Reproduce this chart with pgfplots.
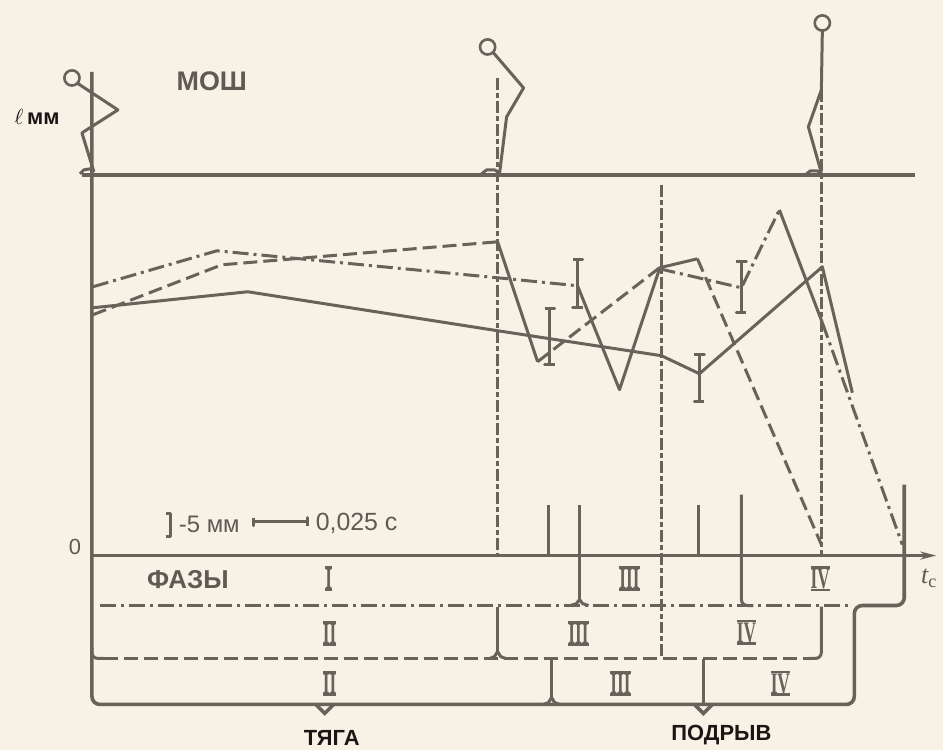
\documentclass[border=0pt]{standalone}
\usepackage{pgfplots}
\pgfplotsset{compat=1.18}
\usetikzlibrary{arrows.meta}
\usepackage{graphicx}
\usepackage{fontspec}
\setmainfont{Liberation Sans}
\newfontfamily\serifrm{Liberation Serif}
\definecolor{bgc}{RGB}{247,242,229}
\definecolor{lc}{RGB}{104,98,91}
\definecolor{gc}{RGB}{96,90,84}
\definecolor{tc}{RGB}{25,22,20}
\tikzset{
 ln/.style={lc, line width=1.5bp, line join=round},
 thk/.style={lc, line width=1.8bp},
 dsh/.style={lc, line width=1.5bp, dash pattern=on 7bp off 3bp},
 dd/.style={lc, line width=1.5bp, dash pattern=on 8bp off 2.5bp on 1.5bp off 2.5bp},
 vd/.style={lc, line width=1.6bp, dash pattern=on 6bp off 1.5bp on 2.5bp off 1.5bp},
 head/.style={only marks, mark=*, mark size=3.8bp, mark options={draw=lc, fill=bgc, line width=1.3bp}},
}
\newcommand\rn[1]{\scalebox{0.58}[1]{\vbox{\hrule height 1.4pt\hbox{\fontsize{15}{15}\serifrm\bfseries #1}\hrule height 1.4pt}}}
\begin{document}
\begin{tikzpicture}
\begin{axis}[
 scale only axis, width=472bp, height=375.5bp,
 xmin=0, xmax=944, ymin=0, ymax=751, y dir=reverse,
 axis line style={draw=none}, xtick=\empty, ytick=\empty,
 axis background/.style={fill=bgc},
 clip=false,
]
% --- frame lines
\addplot[thk] coordinates {(82,175) (916,175)};
\addplot[thk, rounded corners=4bp] coordinates {(92,72) (92,705) (855,705) (855,606) (905,606) (905,485)};
\addplot[thk, -{Stealth[length=8bp,width=4bp]}] coordinates {(92,556) (937,556)};
% --- vertical dashed lines
\addplot[vd] coordinates {(498,78) (498,556)};
\addplot[vd] coordinates {(662,185) (662,659)};
\addplot[vd] coordinates {(822,90) (822,556)};
% --- time ticks
\addplot[ln] coordinates {(549,505) (549,556)};
\addplot[ln] coordinates {(699,505) (699,556)};
% --- phases: row 1
\addplot[dd] coordinates {(100,606) (850,606)};
\addplot[ln] coordinates {(580,505) (580,600)};
\addplot[ln] coordinates {(571,606) (577,604) (580,600) (583,604) (589,606)};
\addplot[ln, rounded corners=3bp] coordinates {(742,495) (742,606) (754,606)};
% --- row 2
\addplot[dsh] coordinates {(104,659) (812,659)};
\addplot[ln, rounded corners=3bp] coordinates {(92,648) (92,659) (104,659)};
\addplot[ln, rounded corners=3bp] coordinates {(822,607) (822,659) (810,659)};
\addplot[ln] coordinates {(498,607) (498,652)};
\addplot[ln] coordinates {(490,659) (495,657) (498,652) (501,657) (506,659)};
% --- row 3
\addplot[ln] coordinates {(552,660) (552,698)};
\addplot[ln] coordinates {(544,705) (549,703) (552,698) (555,703) (560,705)};
\addplot[ln] coordinates {(704,660) (704,705)};
\addplot[thk] coordinates {(316,705) (325,714) (334,705)};
\addplot[thk] coordinates {(695,705) (704,714) (713,705)};
% --- stick figures
\addplot[ln] coordinates {(77,83) (118,110) (82,133) (94,172)};
\addplot[ln] coordinates {(80,174) (84,170) (90,169) (94,172)};
\addplot[head] coordinates {(72,78)};
\addplot[ln] coordinates {(494,53) (524,88) (507,117) (500,173)};
\addplot[ln] coordinates {(482,174) (487,170) (495,170) (500,173)};
\addplot[head] coordinates {(488,47)};
\addplot[ln] coordinates {(823,31) (822,90) (809,127) (822,173)};
\addplot[ln] coordinates {(806,175) (811,171) (818,171) (822,174)};
\addplot[head] coordinates {(823,23)};
% --- curves
\addplot[dd] coordinates {(93,287) (217,251) (498,278) (578,286)};
\addplot[ln] coordinates {(578,286) (620,390) (660,269)};
\addplot[dd] coordinates {(660,269) (742,288) (780,210)};
\addplot[ln] coordinates {(780,210) (823,323)};
\addplot[dd] coordinates {(823,323) (903,545)};
\addplot[dsh] coordinates {(93,315) (222,265) (498,242)};
\addplot[ln] coordinates {(498,242) (538,362)};
\addplot[dsh] coordinates {(538,362) (660,268)};
\addplot[ln] coordinates {(660,268) (698,259)};
\addplot[dsh] coordinates {(698,259) (822,545)};
\addplot[ln] coordinates {(93,308) (248,292) (498,331) (662,356) (700,374) (823,267) (853,393)};
% --- error bars
\addplot[ln] coordinates {(545,309) (555,309) (550,309) (550,365) (545,365) (555,365)};
\addplot[ln] coordinates {(573,260) (583,260) (578,260) (578,308) (573,308) (583,308)};
\addplot[ln] coordinates {(695,355) (705,355) (700,355) (700,402) (695,402) (705,402)};
\addplot[ln] coordinates {(737,262) (747,262) (742,262) (742,313) (737,313) (747,313)};
% --- scale legend
\addplot[ln] coordinates {(166,514) (171,514) (171,537) (166,537)};
\addplot[ln] coordinates {(254,518) (254,526) (254,522) (308,522) (308,518) (308,526)};
% --- texts
\node[gc, font=\bfseries\fontsize{13.5}{14}\selectfont] at (axis cs:212,81) {МОШ};
\node[tc, font=\fontsize{11}{12}\selectfont] at (axis cs:37,117) {$\ell$\,\textbf{мм}};
\node[gc, font=\fontsize{11}{12}\selectfont] at (axis cs:75,547) {0};
\node[gc, font=\bfseries\fontsize{13}{14}\selectfont] at (axis cs:188,580) {ФАЗЫ};
\node[gc, anchor=west, font=\fontsize{12}{13}\selectfont] at (axis cs:172,525) {-5 мм};
\node[gc, anchor=west, font=\fontsize{12.5}{13}\selectfont] at (axis cs:309,524) {0,025 с};
\node[gc, font=\fontsize{13}{14}\selectfont] at (axis cs:930,579) {{\serifrm\itshape t}\textsubscript{\serifrm с}};
\node[lc, inner sep=0pt] at (axis cs:329,579) {\rn{I}};
\node[lc, inner sep=0pt] at (axis cs:630,579) {\rn{III}};
\node[lc, inner sep=0pt] at (axis cs:821,579) {\rn{IV}};
\node[lc, inner sep=0pt] at (axis cs:330,634) {\rn{II}};
\node[lc, inner sep=0pt] at (axis cs:579,634) {\rn{III}};
\node[lc, inner sep=0pt] at (axis cs:747,633) {\rn{IV}};
\node[lc, inner sep=0pt] at (axis cs:330,684) {\rn{II}};
\node[lc, inner sep=0pt] at (axis cs:621,684) {\rn{III}};
\node[lc, inner sep=0pt] at (axis cs:781,684) {\rn{IV}};
\node[tc, font=\bfseries\fontsize{11}{12}\selectfont] at (axis cs:332,739) {ТЯГА};
\node[tc, font=\bfseries\fontsize{11}{12}\selectfont] at (axis cs:722,736) {ПОДРЫВ};
\end{axis}
\end{tikzpicture}
\end{document}
